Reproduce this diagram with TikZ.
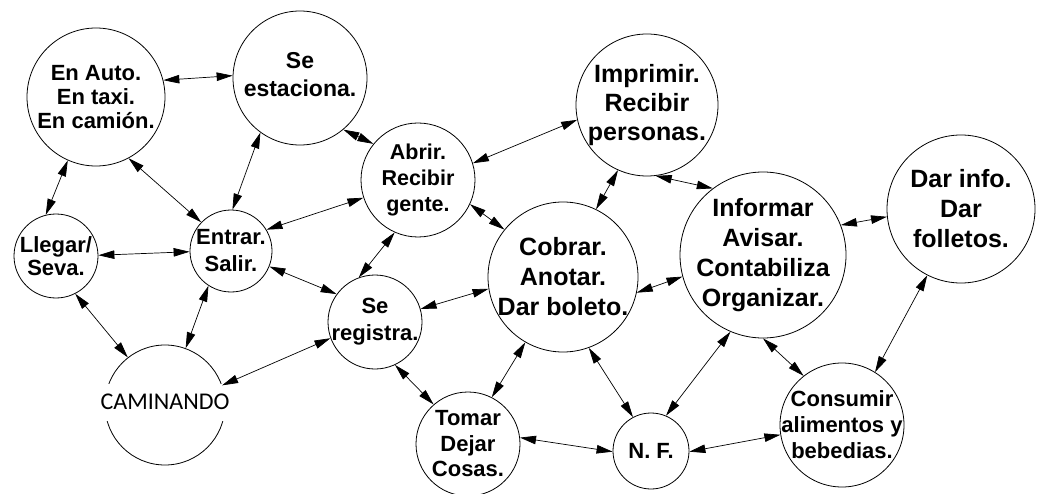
\documentclass[tikz,border=0pt]{standalone}
\usepackage{fontspec}
\setmainfont{Liberation Sans}
\newfontfamily\calib{Carlito}
\usetikzlibrary{arrows.meta}
\begin{document}
\begin{tikzpicture}[x=1pt,y=-1pt,
  circ/.style={circle,draw,line width=0.8pt,inner sep=0pt},
  txt/.style={align=center,inner sep=0pt},
  fsz/.style 2 args={font=\fontsize{#1}{#2}\selectfont\bfseries},
  link/.style={line width=0.7pt,{Triangle[length=16pt,width=8.5pt]}-{Triangle[length=16pt,width=8.5pt]}}]
\path[fill=white,use as bounding box] (0,0) rectangle (1040,494);
% circles
\node[circ,minimum size=138pt] (A) at (96,97) {};
\node[circ,minimum size=134pt] (B) at (300,78) {};
\node[circ,minimum size=114pt] (C) at (418,180) {};
\node[circ,minimum size=142pt] (D) at (647,105) {};
\node[circ,minimum size=166pt] (E) at (763,255) {};
\node[circ,minimum size=148pt] (F) at (961,209) {};
\node[circ,minimum size=84pt] (G) at (56,256) {};
\node[circ,minimum size=82pt] (H) at (231,251) {};
\node[circ,minimum size=94pt] (I) at (375,322) {};
\node[circ,minimum size=150pt] (J) at (563,277) {};
\node[circ,minimum size=120pt] (K) at (165,405) {};
\node[circ,minimum size=104pt] (L) at (468,444) {};
\node[circ,minimum size=76pt] (M) at (651,451) {};
\node[circ,minimum size=124pt] (N) at (842,425) {};
% texts
\node[txt,fsz={22}{24}] (At) at (A) {En Auto.\\En taxi.\\En camión.};
\node[txt,fsz={23}{28}] (Bt) at (300,75) {Se\\estaciona.};
\node[txt,fsz={21.5}{26}] (Ct) at (C) {Abrir.\\Recibir\\gente.};
\node[txt,fsz={25}{29}] (Dt) at (D) {Imprimir.\\Recibir\\personas.};
\node[txt,fsz={25}{30}] (Et) at (E) {Informar\\Avisar.\\Contabiliza\\Organizar.};
\node[txt,fsz={25}{30}] (Ft) at (F) {Dar info.\\Dar\\folletos.};
\node[txt,fsz={22}{23}] (Gt) at (G) {Llegar/\\Seva.};
\node[txt,fsz={22}{27}] (Ht) at (H) {Entrar.\\Salir.};
\node[txt,fsz={22}{27}] (It) at (I) {Se\\registra.};
\node[txt,fsz={25}{30}] (Jt) at (J) {Cobrar.\\Anotar.\\Dar boleto.};
\node[fill=white,inner xsep=1pt,minimum height=37pt,font=\calib\fontsize{24}{28}\selectfont] (Kt) at (165,402) {CAMINANDO};
\node[txt,fsz={22}{25.5}] (Lt) at (L) {Tomar\\Dejar\\Cosas.};
\node[txt,fsz={22}{26}] (Mt) at (M) {N. F.};
\node[txt,fsz={22}{26}] (Nt) at (N) {Consumir\\alimentos y\\bebedias.};
% connectors
\draw[link] (A.14.6) -- (B.178.3);
\draw[link] (A.246.7) -- (G.104.3);
\draw[link] (A.-62.7) -- (H.136.9);
\draw[link] (B.234.4) -- (H.88.6);
\draw[link] (B.-50.4) -- (C.141.3);
\draw[link] (H.31.9) -- (C.198.4);
\draw[link] (G.1.4) -- (H.181.4);
\draw[link] (G.-63.4) -- (K.128.2);
\draw[link] (H.-123.3) -- (K.70.7);
\draw[link] (H.-22.3) -- (I.144.6);
\draw[link] (K.19.5) -- (I.200.9);
\draw[link] (C.-114.4) -- (I.110.7);
\draw[link] (C.17.2) -- (D.192.1);
\draw[link] (C.-25.3) -- (J.141.7);
\draw[link] (D.-114.8) -- (J.64.5);
\draw[link] (D.-83.6) -- (E.127.7);
\draw[link] (I.16.6) -- (J.189.5);
\draw[link] (I.-65.1) -- (L.131.2);
\draw[link] (J.-120.3) -- (L.63);
\draw[link] (J.-70.9) -- (M.118.6);
\draw[link] (J.-12.9) -- (E.195.4);
\draw[link] (L.7.8) -- (M.181.5);
\draw[link] (M.67.6) -- (E.-113.7);
\draw[link] (M.-1.5) -- (N.189.5);
\draw[link] (E.-90) -- (N.128.4);
\draw[link] (E.21.3) -- (F.186.9);
\draw[link] (F.-117.3) -- (N.58.1);
\end{tikzpicture}
\end{document}
